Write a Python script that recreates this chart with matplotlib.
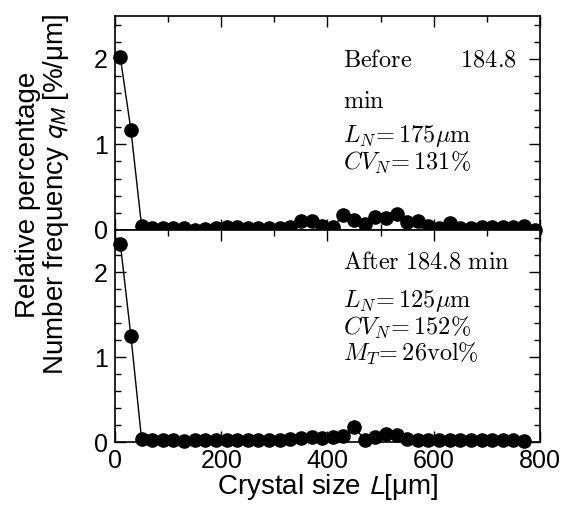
import numpy as np
import matplotlib
matplotlib.use("Agg")
import matplotlib.pyplot as plt
from matplotlib.ticker import MultipleLocator

plt.rcParams['font.family'] = ['Liberation Sans', 'DejaVu Sans']

# crystal size classes [um]
size_before = [10, 30, 50, 70, 90, 110, 130, 150, 170, 190,
               210, 230, 250, 270, 290, 310, 330, 350, 370, 390,
               410, 430, 450, 470, 490, 510, 530, 550, 570, 590,
               610, 630, 650, 670, 690, 710, 730, 750, 770, 790]
q_before = [2.02, 1.17, 0.05, 0.02, 0.02, 0.02, 0.02, 0.00, 0.01, 0.02,
            0.03, 0.03, 0.02, 0.02, 0.02, 0.02, 0.03, 0.10, 0.11, 0.04,
            0.03, 0.18, 0.12, 0.07, 0.15, 0.14, 0.19, 0.09, 0.10, 0.04,
            0.02, 0.08, 0.02, 0.02, 0.03, 0.03, 0.03, 0.03, 0.04, 0.00]

size_after = size_before[:39]
q_after = [2.34, 1.25, 0.04, 0.03, 0.02, 0.03, 0.01, 0.03, 0.02, 0.02,
           0.02, 0.02, 0.02, 0.02, 0.03, 0.03, 0.04, 0.05, 0.06, 0.05,
           0.06, 0.07, 0.18, 0.03, 0.06, 0.10, 0.08, 0.04, 0.03, 0.03,
           0.03, 0.02, 0.02, 0.02, 0.02, 0.02, 0.02, 0.02, 0.01]

notes_before = [r"$\mathrm{Before}\qquad\ 184.8$", r"$\mathrm{min}$",
                r"$L_N\!= 175\mathrm{\mu m}$", r"$CV_N\!= 131\%$"]
notes_after = [r"$\mathrm{After\ 184.8\ min}$", r"$L_N\!= 125\mathrm{\mu m}$",
               r"$CV_N\!= 152\%$", r"$M_T\!= 26\mathrm{vol\%}$"]

fig = plt.figure(figsize=(5.72, 5.19), dpi=100)
ax1 = fig.add_axes([0.201, 0.557, 0.743, 0.412])
ax2 = fig.add_axes([0.201, 0.148, 0.743, 0.409])

for ax, x, y in [(ax1, size_before, q_before), (ax2, size_after, q_after)]:
    ax.plot(x, y, color='black', lw=1.0, marker='o', ms=9.5, clip_on=False, zorder=5)
    ax.set_xlim(0, 800)
    ax.set_ylim(0, 2.5)
    ax.xaxis.set_major_locator(MultipleLocator(200))
    ax.xaxis.set_minor_locator(MultipleLocator(100))
    ax.yaxis.set_major_locator(MultipleLocator(1))
    ax.yaxis.set_minor_locator(MultipleLocator(0.2))
    ax.tick_params(which='both', direction='in', top=True, right=True,
                   labelsize=18, width=1)
    ax.tick_params(which='major', length=8, pad=5)
    ax.tick_params(which='minor', length=4)
    for s in ax.spines.values():
        s.set_linewidth(1.2)

ax1.tick_params(labelbottom=False)

for t, ys in zip(notes_before, [0.79, 0.60, 0.44, 0.315]):
    ax1.text(0.536, ys, t, transform=ax1.transAxes, fontsize=17.5,
             math_fontfamily='cm', va='center', ha='left')
for t, ys in zip(notes_after, [0.845, 0.665, 0.54, 0.415]):
    ax2.text(0.536, ys, t, transform=ax2.transAxes, fontsize=17.5,
             math_fontfamily='cm', va='center', ha='left')

ax2.set_xlabel(r"Crystal size $L$[μm]", fontsize=20, labelpad=-1,
               math_fontfamily='stixsans')
fig.text(0.075, 0.625, "Relative percentage\nNumber frequency $q_M$ [%/μm]",
         rotation=90, ha='center', va='center', fontsize=20,
         linespacing=1.0, math_fontfamily='stixsans')

fig.savefig("out.png", dpi=100)
